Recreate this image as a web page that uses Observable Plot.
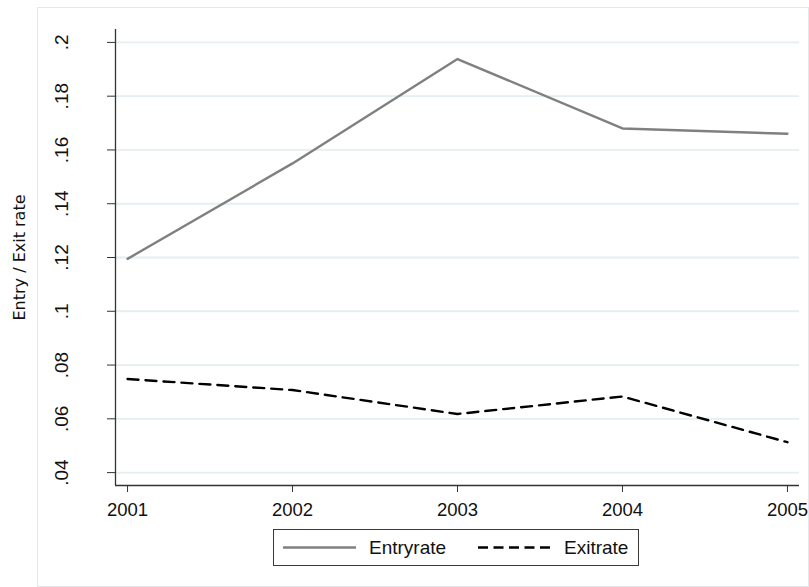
<!DOCTYPE html>
<html><head><meta charset="utf-8">
<script src="https://cdn.jsdelivr.net/npm/d3@7"></script>
<script src="https://cdn.jsdelivr.net/npm/@observablehq/plot@0.6"></script>
<style>
body{margin:0;background:#fff;}
#wrap{position:relative;width:809px;height:587px;overflow:hidden;font-family:"Liberation Sans",Arial,sans-serif;}
#frame{position:absolute;left:37px;top:7px;width:772px;height:580px;border:1px solid #e4e8ea;box-sizing:border-box;}
#chart{position:absolute;left:0;top:0;}
#legend{position:absolute;left:273px;top:529px;width:366px;height:37px;border:1px solid #3a3a3a;box-sizing:border-box;background:#fff;}
#legend svg{position:absolute;left:0;top:0;}
.lt{position:absolute;top:0;line-height:35px;font-size:19px;color:#111;white-space:nowrap;}
</style></head><body>
<div id="wrap"><div id="frame"></div><div id="chart"></div><div id="legend"></div></div>
<script>
const years=[2001,2002,2003,2004,2005];
const entryRate=[0.1195,0.155,0.1938,0.168,0.166];
const exitRate=[0.0748,0.0707,0.0618,0.0683,0.0513];
const yTicks=[0.04,0.06,0.08,0.1,0.12,0.14,0.16,0.18,0.2];
const yTickLabels=[".04",".06",".08",".1",".12",".14",".16",".18",".2"];
const seriesNames=["Entryrate","Exitrate"];
const yTitle="Entry / Exit rate";

const entry=years.map((y,i)=>({year:y,value:entryRate[i]}));
const exit=years.map((y,i)=>({year:y,value:exitRate[i]}));
const xDomain=[2000.927,2005.073];
const yDomain=[0.0352,0.2048];

const chart=Plot.plot({
  width:809,height:529,
  marginLeft:115,marginRight:10,marginTop:29,marginBottom:44,
  style:{fontFamily:"Liberation Sans, Arial, sans-serif",fontSize:"18px",color:"#111",background:"transparent",overflow:"visible"},
  x:{type:"linear",domain:xDomain},
  y:{domain:yDomain},
  marks:[
    Plot.ruleY(yTicks,{stroke:"#e6eef1",strokeWidth:1.8}),
    Plot.line(entry,{x:"year",y:"value",stroke:"#808080",strokeWidth:2.4}),
    Plot.line(exit,{x:"year",y:"value",stroke:"#000",strokeWidth:2.4,strokeDasharray:"11,7"}),
    Plot.axisX({ticks:years,tickFormat:d=>String(d),tickSize:7,tickPadding:10,stroke:"#333",label:null,fontSize:18.5}),
    Plot.axisY({ticks:yTicks,tickSize:8,tickFormat:()=>"",label:null,stroke:"#333"}),
    Plot.text(yTicks,{y:d=>d,frameAnchor:"left",dx:-54,rotate:-90,text:(d,i)=>yTickLabels[i],textAnchor:"middle",lineAnchor:"middle",fontSize:19,fill:"#111"}),
    Plot.ruleX([xDomain[0]],{stroke:"#333",strokeWidth:1.3}),
    Plot.ruleY([yDomain[0]],{stroke:"#333",strokeWidth:1.3}),
    Plot.text([yTitle],{frameAnchor:"left",dx:-96,rotate:-90,textAnchor:"middle",lineAnchor:"middle",fontSize:16,fontFamily:"DejaVu Sans, sans-serif",fill:"#111"})
  ]
});
document.getElementById("chart").appendChild(chart);

// legend
const legend=document.getElementById("legend");
const ns="http://www.w3.org/2000/svg";
const svg=document.createElementNS(ns,"svg");
svg.setAttribute("width","364");svg.setAttribute("height","35");
const styles=[{stroke:"#808080",dash:null,x1:9,x2:82,tx:95},{stroke:"#000",dash:"10,5.5",x1:204,x2:277,tx:290}];
seriesNames.forEach((name,i)=>{
  const s=styles[i];
  const l=document.createElementNS(ns,"line");
  l.setAttribute("x1",s.x1);l.setAttribute("x2",s.x2);
  l.setAttribute("y1",17.5);l.setAttribute("y2",17.5);
  l.setAttribute("stroke",s.stroke);l.setAttribute("stroke-width","2.4");
  if(s.dash)l.setAttribute("stroke-dasharray",s.dash);
  svg.appendChild(l);
  const t=document.createElement("div");
  t.className="lt";t.style.left=s.tx+"px";t.textContent=name;
  legend.appendChild(t);
});
legend.appendChild(svg);
</script>
</body></html>
